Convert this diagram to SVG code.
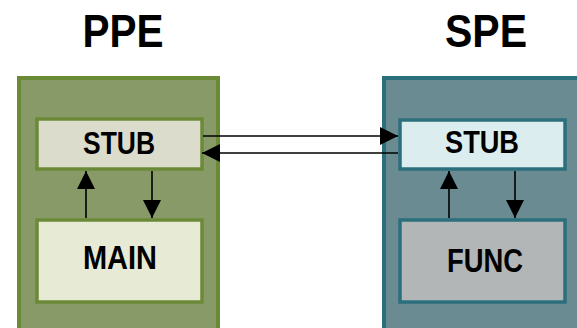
<svg xmlns="http://www.w3.org/2000/svg" width="577" height="328" viewBox="0 0 577 328">
<style>
text{font-family:"Liberation Sans",Arial,sans-serif;font-weight:bold;fill:#000;text-anchor:middle}
.title{font-size:47px}
.lbl{font-size:32px}
.ppe{fill:#889a68;stroke:#6b8a38;stroke-width:4}
.ppein{stroke:#6b8a38;stroke-width:3.5}
.spe{fill:#6a8b92;stroke:#2c6f7c;stroke-width:4}
.spein{stroke:#2c6f7c;stroke-width:3.5}
.con{stroke:#000;stroke-width:1.6;fill:none}
</style>
<defs>
<marker id="ahb" viewBox="0 0 18 18" refX="18" refY="9" markerWidth="18" markerHeight="18" markerUnits="userSpaceOnUse" orient="auto">
<path d="M0,0 L18,9 L0,18 z" fill="#000"/>
</marker>
</defs>
<text class="title" x="123" y="47" textLength="81" lengthAdjust="spacingAndGlyphs">PPE</text>
<text class="title" x="486" y="47" textLength="82" lengthAdjust="spacingAndGlyphs">SPE</text>
<g id="ppe">
<rect class="ppe" x="19" y="78" width="199" height="256"/>
</g>
<g id="spe">
<rect class="spe" x="384" y="78" width="200" height="256"/>
</g>
<g id="ppe-stub">
<rect class="ppein" x="37" y="119" width="165" height="50" fill="#dcdccd"/>
<text class="lbl" x="119" y="154" textLength="72" lengthAdjust="spacingAndGlyphs">STUB</text>
</g>
<g id="main">
<rect class="ppein" x="37" y="220" width="165" height="82" fill="#e7ebd6"/>
<text class="lbl" x="120" y="269" textLength="74" lengthAdjust="spacingAndGlyphs" style="font-size:33px">MAIN</text>
</g>
<g id="spe-stub">
<rect class="spein" x="400" y="120" width="165" height="49" fill="#dcedef"/>
<text class="lbl" x="482" y="153" textLength="74" lengthAdjust="spacingAndGlyphs">STUB</text>
</g>
<g id="func">
<rect class="spein" x="400" y="220" width="165" height="82" fill="#b3b6b6"/>
<text class="lbl" x="485" y="272" textLength="76" lengthAdjust="spacingAndGlyphs" style="font-size:33px">FUNC</text>
</g>
<g id="connectors">
<line class="con" x1="203" y1="136" x2="398" y2="136" marker-end="url(#ahb)"/>
<line class="con" x1="398" y1="153" x2="202" y2="153" marker-end="url(#ahb)"/>
<line class="con" x1="86" y1="218" x2="86" y2="171" marker-end="url(#ahb)"/>
<line class="con" x1="152" y1="171" x2="152" y2="218" marker-end="url(#ahb)"/>
<line class="con" x1="449" y1="218" x2="449" y2="171" marker-end="url(#ahb)"/>
<line class="con" x1="515" y1="171" x2="515" y2="218" marker-end="url(#ahb)"/>
</g>
</svg>
